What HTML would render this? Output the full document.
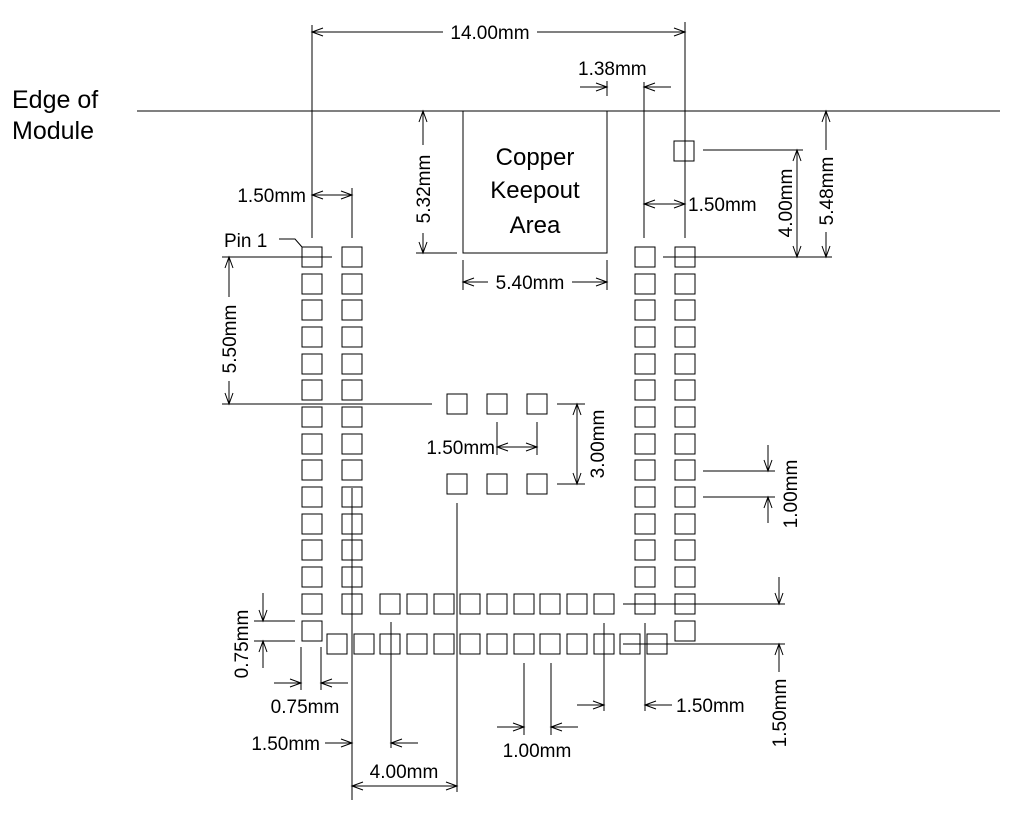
<!DOCTYPE html>
<html><head><meta charset="utf-8"><style>
html,body{margin:0;padding:0;background:#fff}
svg{display:block}
text{font-family:"Liberation Sans",sans-serif;fill:#000}
</style></head><body>
<svg width="1014" height="816" viewBox="0 0 1014 816" xmlns="http://www.w3.org/2000/svg">
<g stroke="#000" stroke-width="1" fill="none">
<line x1="137" y1="111" x2="1000" y2="111"/>
<rect x="463" y="111" width="144" height="142"/>
<g id="c1">
<rect x="302" y="247" width="20" height="20"/><rect x="302" y="274" width="20" height="20"/><rect x="302" y="300" width="20" height="20"/><rect x="302" y="327" width="20" height="20"/><rect x="302" y="354" width="20" height="20"/><rect x="302" y="380" width="20" height="20"/><rect x="302" y="407" width="20" height="20"/><rect x="302" y="434" width="20" height="20"/><rect x="302" y="460" width="20" height="20"/><rect x="302" y="487" width="20" height="20"/><rect x="302" y="514" width="20" height="20"/><rect x="302" y="540" width="20" height="20"/><rect x="302" y="567" width="20" height="20"/><rect x="302" y="594" width="20" height="20"/>
</g>
<use href="#c1" x="40"/>
<use href="#c1" x="333"/>
<use href="#c1" x="373"/>
<rect x="302" y="621" width="20" height="20"/>
<rect x="675" y="621" width="20" height="20"/>
<rect x="674" y="141" width="20" height="20"/>
<g id="br">
<rect x="327" y="634" width="20" height="20"/><rect x="354" y="634" width="20" height="20"/><rect x="380" y="634" width="20" height="20"/><rect x="407" y="634" width="20" height="20"/><rect x="434" y="634" width="20" height="20"/><rect x="460" y="634" width="20" height="20"/><rect x="487" y="634" width="20" height="20"/><rect x="514" y="634" width="20" height="20"/><rect x="540" y="634" width="20" height="20"/><rect x="567" y="634" width="20" height="20"/><rect x="594" y="634" width="20" height="20"/><rect x="620" y="634" width="20" height="20"/><rect x="647" y="634" width="20" height="20"/>
</g>
<rect x="380" y="594" width="20" height="20"/><rect x="407" y="594" width="20" height="20"/><rect x="434" y="594" width="20" height="20"/><rect x="460" y="594" width="20" height="20"/><rect x="487" y="594" width="20" height="20"/><rect x="514" y="594" width="20" height="20"/><rect x="540" y="594" width="20" height="20"/><rect x="567" y="594" width="20" height="20"/><rect x="594" y="594" width="20" height="20"/>
<rect x="447" y="394" width="20" height="20"/><rect x="487" y="394" width="20" height="20"/><rect x="527" y="394" width="20" height="20"/>
<rect x="447" y="474" width="20" height="20"/><rect x="487" y="474" width="20" height="20"/><rect x="527" y="474" width="20" height="20"/>

<line x1="312" y1="25" x2="312" y2="238"/><line x1="685" y1="22" x2="685" y2="238"/>
<line x1="312" y1="32" x2="443" y2="32"/><line x1="537" y1="32" x2="685" y2="32"/>
<path d="M323 28 L312 32 L323 36 M674 28 L685 32 L674 36"/>
<line x1="352" y1="188" x2="352" y2="238"/>
<line x1="312" y1="195" x2="352" y2="195"/>
<path d="M323 191 L312 195 L323 199 M341 191 L352 195 L341 199"/>
<path d="M279 239 L295 239 L302 247"/>
<line x1="222" y1="257" x2="332" y2="257"/>
<line x1="229" y1="257" x2="229" y2="297"/><line x1="229" y1="381" x2="229" y2="404"/>
<path d="M225 268 L229 257 L233 268 M225 393 L229 404 L233 393"/>
<line x1="222" y1="404" x2="432" y2="404"/>
<line x1="423" y1="111" x2="423" y2="145"/><line x1="423" y1="233" x2="423" y2="253"/>
<path d="M419 122 L423 111 L427 122 M419 242 L423 253 L427 242"/>
<line x1="416" y1="253" x2="457" y2="253"/>
<line x1="463" y1="260" x2="463" y2="290"/><line x1="607" y1="260" x2="607" y2="290"/>
<line x1="463" y1="282" x2="488" y2="282"/><line x1="572" y1="282" x2="607" y2="282"/>
<path d="M474 278 L463 282 L474 286 M596 278 L607 282 L596 286"/>
<line x1="607" y1="81" x2="607" y2="96"/><line x1="644" y1="82" x2="644" y2="238"/>
<line x1="580" y1="87" x2="607" y2="87"/><line x1="644" y1="87" x2="671" y2="87"/>
<path d="M596 83 L607 87 L596 91 M655 83 L644 87 L655 91"/>
<line x1="644" y1="204" x2="685" y2="204"/>
<path d="M655 200 L644 204 L655 208 M674 200 L685 204 L674 208"/>
<line x1="703" y1="150" x2="803" y2="150"/>
<line x1="663" y1="257" x2="832" y2="257"/>
<line x1="797" y1="150" x2="797" y2="257"/>
<path d="M793 161 L797 150 L801 161 M793 246 L797 257 L801 246"/>
<line x1="826" y1="111" x2="826" y2="150"/><line x1="826" y1="232" x2="826" y2="257"/>
<path d="M822 122 L826 111 L830 122 M822 246 L826 257 L830 246"/>
<line x1="557" y1="404" x2="585" y2="404"/><line x1="557" y1="484" x2="585" y2="484"/>
<line x1="577" y1="404" x2="577" y2="484"/>
<path d="M573 415 L577 404 L581 415 M573 473 L577 484 L581 473"/>
<line x1="497" y1="422" x2="497" y2="455"/><line x1="537" y1="422" x2="537" y2="455"/>
<line x1="497" y1="447" x2="537" y2="447"/>
<path d="M508 443 L497 447 L508 451 M526 443 L537 447 L526 451"/>
<line x1="703" y1="471" x2="775" y2="471"/><line x1="703" y1="497" x2="775" y2="497"/>
<line x1="768" y1="445" x2="768" y2="471"/><line x1="768" y1="497" x2="768" y2="523"/>
<path d="M764 460 L768 471 L772 460 M764 508 L768 497 L772 508"/>
<line x1="623" y1="604" x2="785" y2="604"/><line x1="623" y1="644" x2="785" y2="644"/>
<line x1="779" y1="577" x2="779" y2="604"/><line x1="779" y1="644" x2="779" y2="672"/>
<path d="M775 593 L779 604 L783 593 M775 655 L779 644 L783 655"/>
<line x1="604" y1="623" x2="604" y2="711"/><line x1="645" y1="623" x2="645" y2="711"/>
<line x1="577" y1="705" x2="604" y2="705"/><line x1="645" y1="705" x2="672" y2="705"/>
<path d="M593 701 L604 705 L593 709 M656 701 L645 705 L656 709"/>
<line x1="524" y1="663" x2="524" y2="735"/><line x1="551" y1="663" x2="551" y2="735"/>
<line x1="497" y1="727" x2="524" y2="727"/><line x1="551" y1="727" x2="578" y2="727"/>
<path d="M513 723 L524 727 L513 731 M562 723 L551 727 L562 731"/>
<line x1="301" y1="647" x2="301" y2="690"/><line x1="321" y1="647" x2="321" y2="690"/>
<line x1="274" y1="683" x2="301" y2="683"/><line x1="321" y1="683" x2="348" y2="683"/>
<path d="M290 679 L301 683 L290 687 M332 679 L321 683 L332 687"/>
<line x1="254" y1="621" x2="295" y2="621"/><line x1="254" y1="641" x2="295" y2="641"/>
<line x1="263" y1="593" x2="263" y2="621"/><line x1="263" y1="641" x2="263" y2="668"/>
<path d="M259 610 L263 621 L267 610 M259 652 L263 641 L267 652"/>
<line x1="352" y1="488" x2="352" y2="800"/>
<line x1="391" y1="622" x2="391" y2="748"/>
<line x1="457" y1="503" x2="457" y2="792"/>
<line x1="325" y1="743" x2="352" y2="743"/><line x1="391" y1="743" x2="418" y2="743"/>
<path d="M341 739 L352 743 L341 747 M402 739 L391 743 L402 747"/>
<line x1="352" y1="786" x2="457" y2="786"/>
<path d="M363 782 L352 786 L363 790 M446 782 L457 786 L446 790"/>
</g>

<g font-size="19">
<text x="12" y="108" font-size="25">Edge of</text>
<text x="12" y="139" font-size="25">Module</text>
<text x="490" y="39" text-anchor="middle">14.00mm</text>
<text x="306" y="202" text-anchor="end">1.50mm</text>
<text x="224" y="247">Pin 1</text>
<text x="578" y="75">1.38mm</text>
<text x="688" y="211">1.50mm</text>
<text x="535" y="165" text-anchor="middle" font-size="24">Copper</text>
<text x="535" y="198" text-anchor="middle" font-size="24">Keepout</text>
<text x="535" y="233" text-anchor="middle" font-size="24">Area</text>
<text x="530" y="289" text-anchor="middle">5.40mm</text>
<text x="495" y="454" text-anchor="end">1.50mm</text>
<text x="676" y="712">1.50mm</text>
<text x="537" y="757" text-anchor="middle">1.00mm</text>
<text x="305" y="713" text-anchor="middle">0.75mm</text>
<text x="320" y="750" text-anchor="end">1.50mm</text>
<text x="404" y="778" text-anchor="middle">4.00mm</text>
<text transform="translate(236,339) rotate(-90)" text-anchor="middle">5.50mm</text>
<text transform="translate(430,189) rotate(-90)" text-anchor="middle">5.32mm</text>
<text transform="translate(792,203) rotate(-90)" text-anchor="middle">4.00mm</text>
<text transform="translate(833,191) rotate(-90)" text-anchor="middle">5.48mm</text>
<text transform="translate(604,444) rotate(-90)" text-anchor="middle">3.00mm</text>
<text transform="translate(797,494) rotate(-90)" text-anchor="middle">1.00mm</text>
<text transform="translate(786,713) rotate(-90)" text-anchor="middle">1.50mm</text>
<text transform="translate(248,644) rotate(-90)" text-anchor="middle">0.75mm</text>
</g>
</svg>
</body></html>
